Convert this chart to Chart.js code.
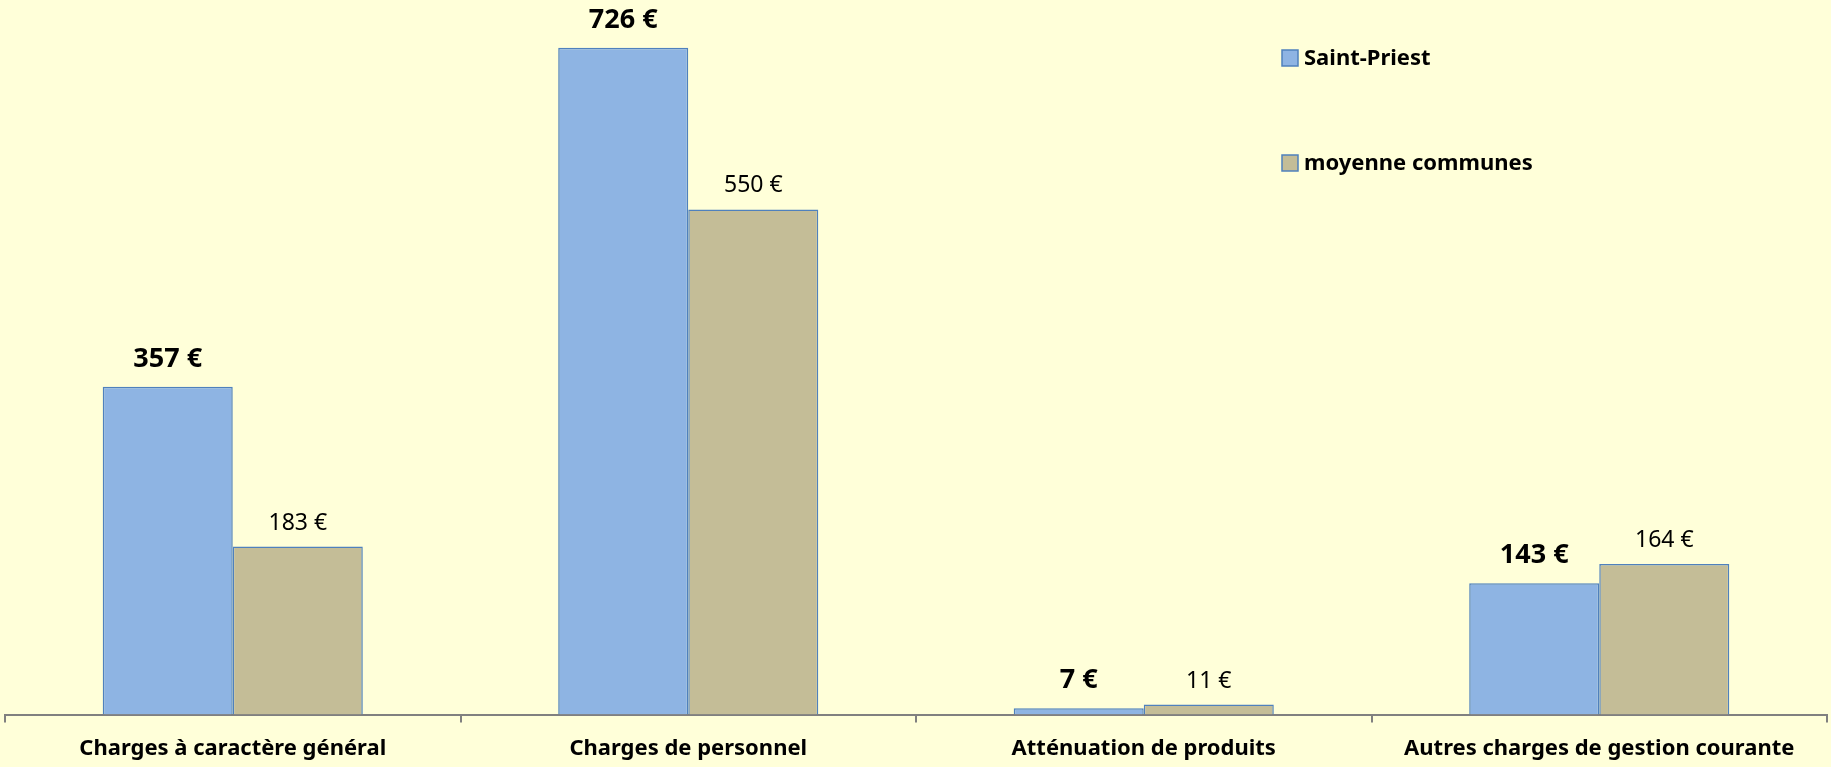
<!DOCTYPE html>
<html>
<head>
    <title>Charges de fonctionnement</title>
    <script src="https://cdn.jsdelivr.net/npm/chart.js"></script>
    <style>
        html, body { margin: 0; padding: 0; background: #FFFFD9; }
        #wrap { width: 1831px; height: 767px; }
    </style>
</head>
<body>
    <div id="wrap"><canvas id="myChart"></canvas></div>
    <script>
        // Données
        const categories = ['Charges à caractère général', 'Charges de personnel', 'Atténuation de produits', 'Autres charges de gestion courante'];
        const saintPriest = [357, 726, 7, 143];
        const moyenneCommunes = [183, 550, 11, 164];
        const seriesNames = ['Saint-Priest', 'moyenne communes'];

        const FONT = '"Noto Sans", "Open Sans", sans-serif';

        // Étiquettes de valeurs au-dessus des barres
        const valueLabels = {
            id: 'valueLabels',
            afterDatasetsDraw(chart) {
                const ctx = chart.ctx;
                ctx.save();
                ctx.textAlign = 'center';
                ctx.textBaseline = 'bottom';
                ctx.fillStyle = '#000';
                chart.data.datasets.forEach((ds, i) => {
                    const meta = chart.getDatasetMeta(i);
                    ctx.font = i === 0 ? 'bold 27px ' + FONT : '23px ' + FONT;
                    meta.data.forEach((bar, j) => {
                        ctx.fillText(ds.data[j] + ' €', bar.x, bar.y - (i === 0 ? 14 : 12));
                    });
                });
                ctx.restore();
            }
        };

        // Légende à droite, en haut
        const sideLegend = {
            id: 'sideLegend',
            afterDraw(chart) {
                const ctx = chart.ctx;
                ctx.save();
                ctx.font = 'bold 22px ' + FONT;
                ctx.textBaseline = 'middle';
                ctx.textAlign = 'left';
                const rows = [58, 163];
                chart.data.datasets.forEach((ds, i) => {
                    const y = rows[i];
                    ctx.fillStyle = ds.backgroundColor;
                    ctx.fillRect(1282, y - 8, 16, 16);
                    ctx.strokeStyle = '#4F81BD';
                    ctx.lineWidth = 1.5;
                    ctx.strokeRect(1282, y - 8, 16, 16);
                    ctx.fillStyle = '#000';
                    ctx.fillText(ds.label, 1304, y + 1);
                });
                ctx.restore();
            }
        };

        const bg = {
            id: 'bg',
            beforeDraw(chart) {
                const ctx = chart.ctx;
                ctx.save();
                ctx.fillStyle = '#FFFFD9';
                ctx.fillRect(0, 0, chart.width, chart.height);
                ctx.restore();
            }
        };

        const config = {
            type: 'bar',
            data: {
                labels: categories,
                datasets: [{
                    label: seriesNames[0],
                    data: saintPriest,
                    backgroundColor: '#8EB4E3',
                    borderColor: '#4F81BD',
                    borderWidth: 1.5
                }, {
                    label: seriesNames[1],
                    data: moyenneCommunes,
                    backgroundColor: '#C4BD97',
                    borderColor: '#4F81BD',
                    borderWidth: 1.5
                }]
            },
            options: {
                responsive: true,
                maintainAspectRatio: false,
                animation: false,
                layout: { padding: { left: 5, right: 4, top: 0, bottom: -8 } },
                datasets: { bar: { barPercentage: 1.0, categoryPercentage: 0.571 } },
                plugins: {
                    legend: { display: false },
                    tooltip: { enabled: false }
                },
                scales: {
                    x: {
                        grid: {
                            offset: true,
                            drawOnChartArea: false,
                            drawTicks: true,
                            tickLength: 8,
                            color: '#808080',
                            lineWidth: 2
                        },
                        border: { display: true, color: '#808080', width: 2 },
                        ticks: {
                            color: '#000',
                            padding: 13,
                            font: { family: FONT, size: 22, weight: 'bold' },
                            maxRotation: 0
                        }
                    },
                    y: {
                        display: false,
                        min: 0,
                        max: 778
                    }
                }
            },
            plugins: [bg, valueLabels, sideLegend]
        };

        const myChart = new Chart(document.getElementById('myChart'), config);
    </script>
</body>
</html>
